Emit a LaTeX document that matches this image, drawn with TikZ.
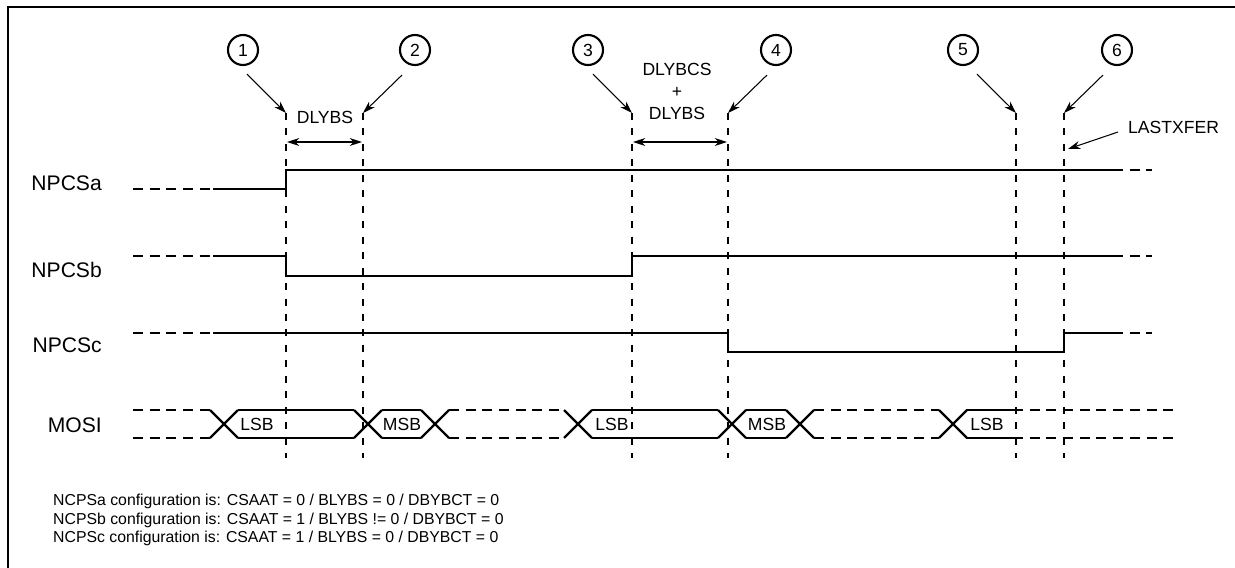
\documentclass[tikz,border=0pt]{standalone}
\usepackage{fontspec}
\setmainfont{Liberation Sans}
\usepackage{tikz}
\usetikzlibrary{arrows.meta,positioning,calc}
\tikzstyle{arr}     =[->, line width=0.6pt, >={Stealth[length=7pt,width=4.5pt]}]
\tikzstyle{darr}    =[<->, line width=0.6pt, >={Stealth[length=7pt,width=4.5pt]}]
\tikzstyle{wave}    =[line width=1.3pt]
\tikzstyle{sigdash} =[line width=1.3pt, dash pattern=on 5.7pt off 3.8pt]
\tikzstyle{vline}   =[line width=1.1pt, dash pattern=on 4pt off 4.8pt]
\tikzstyle{num}     =[draw, circle, line width=1.2pt, minimum size=0.6cm, inner sep=0pt]
\tikzstyle{siglbl}  =[anchor=east, font=\fontsize{12}{14}\selectfont]

\begin{document}
\begin{tikzpicture}[x=0.02cm, y=-0.02cm, every node/.style={font=\fontsize{10}{12.5}\selectfont}]

  \useasboundingbox (0,0) rectangle (1235,568);
  \draw[line width=1.5pt] (8,568) -- (8,7) -- (1235,7);

  % ── event markers ─────────────────────────────────────────────────────────
  \node[num] (c1) at (243,50)  {1};
  \node[num] (c2) at (415,50)  {2};
  \node[num] (c3) at (588,50)  {3};
  \node[num] (c4) at (776,50)  {4};
  \node[num] (c5) at (963,50)  {5};
  \node[num] (c6) at (1117,50) {6};

  \coordinate (t1) at (286,113);  \coordinate (b1) at (286,458);
  \coordinate (t2) at (363,113);  \coordinate (b2) at (363,458);
  \coordinate (t3) at (632,113);  \coordinate (b3) at (632,458);
  \coordinate (t4) at (728,113);  \coordinate (b4) at (728,458);
  \coordinate (t5) at (1016,113); \coordinate (b5) at (1016,458);
  \coordinate (t6) at (1064,113); \coordinate (b6) at (1064,458);

  \foreach \i in {1,...,6}
    \draw[vline] (t\i) -- (b\i);

  \draw[arr] ([shift={(4,8)}]c1.south)   -- (t1);
  \draw[arr] ([shift={(-13,9)}]c2.south) -- (t2);
  \draw[arr] ([shift={(5,8)}]c3.south)   -- (t3);
  \draw[arr] ([shift={(-9,9)}]c4.south)  -- (t4);
  \draw[arr] ([shift={(14,8)}]c5.south)  -- (t5);
  \draw[arr] ([shift={(-14,9)}]c6.south) -- (t6);

  % ── delays ────────────────────────────────────────────────────────────────
  \node (dlybs) at (325,117) {DLYBS};
  \draw[darr] ([shift={(1,29)}]t1) -- ([shift={(-1,29)}]t2);

  \node[align=center] (dlybcs) at (677,91) {DLYBCS\\+\\DLYBS};
  \draw[darr] ([shift={(1,29)}]t3) -- ([shift={(-1,29)}]t4);

  \node[anchor=west] (lastx) at (1122,127) {LASTXFER};
  \draw[arr] ([shift={(-4,5)}]lastx.west) -- ([shift={(4,36)}]t6);

  % ── chip selects ──────────────────────────────────────────────────────────
  \node[siglbl] (npcsa) at (108,183) {NPCSa};
  \draw[sigdash] (133,189) -- (213,189);
  \draw[wave] (213,189) -- (286,189) -- (286,170) -- (1113,170);
  \draw[sigdash] (1113,170) -- (1152,170);

  \node[siglbl] (npcsb) at (108,270) {NPCSb};
  \draw[sigdash] (133,256) -- (213,256);
  \draw[wave] (213,256) -- (286,256) -- (286,276) -- (632,276) -- (632,256) -- (1113,256);
  \draw[sigdash] (1113,256) -- (1152,256);

  \node[siglbl] (npcsc) at (108,345) {NPCSc};
  \draw[sigdash] (133,333) -- (213,333);
  \draw[wave] (213,333) -- (728,333) -- (728,352) -- (1064,352) -- (1064,333) -- (1113,333);
  \draw[sigdash] (1113,333) -- (1152,333);

  % ── data line ─────────────────────────────────────────────────────────────
  \node[siglbl] (mosi) at (108,425) {MOSI};
  \foreach \c in {224,368,435,578,732,800,953}
    \draw[wave] (\c-14,410) -- (\c+14,438) (\c-14,438) -- (\c+14,410);
  \foreach \a/\b in {238/354, 382/421, 592/718, 746/786, 966/1013}
    \draw[wave] (\a,410) -- (\b,410) (\a,438) -- (\b,438);
  \foreach \a/\b in {133/210, 449/564, 814/939, 1013/1175}
    \draw[sigdash] (\a,410) -- (\b,410) (\a,438) -- (\b,438);

  \node (lsba) at (257,424) {LSB};
  \node (msba) at (402,424) {MSB};
  \node (lsbb) at (612,424) {LSB};
  \node (msbb) at (767,424) {MSB};
  \node (lsbc) at (987,424) {LSB};

  % ── configuration ─────────────────────────────────────────────────────────
  \node[anchor=west, align=left, font=\fontsize{9}{10.3}\selectfont] (cfg) at (47,520)
    {NCPSa configuration is: CSAAT = 0 / BLYBS = 0 / DBYBCT = 0\\
     NCPSb configuration is: CSAAT = 1 / BLYBS != 0 / DBYBCT = 0\\
     NCPSc configuration is: CSAAT = 1 / BLYBS = 0 / DBYBCT = 0};

\end{tikzpicture}
\end{document}
